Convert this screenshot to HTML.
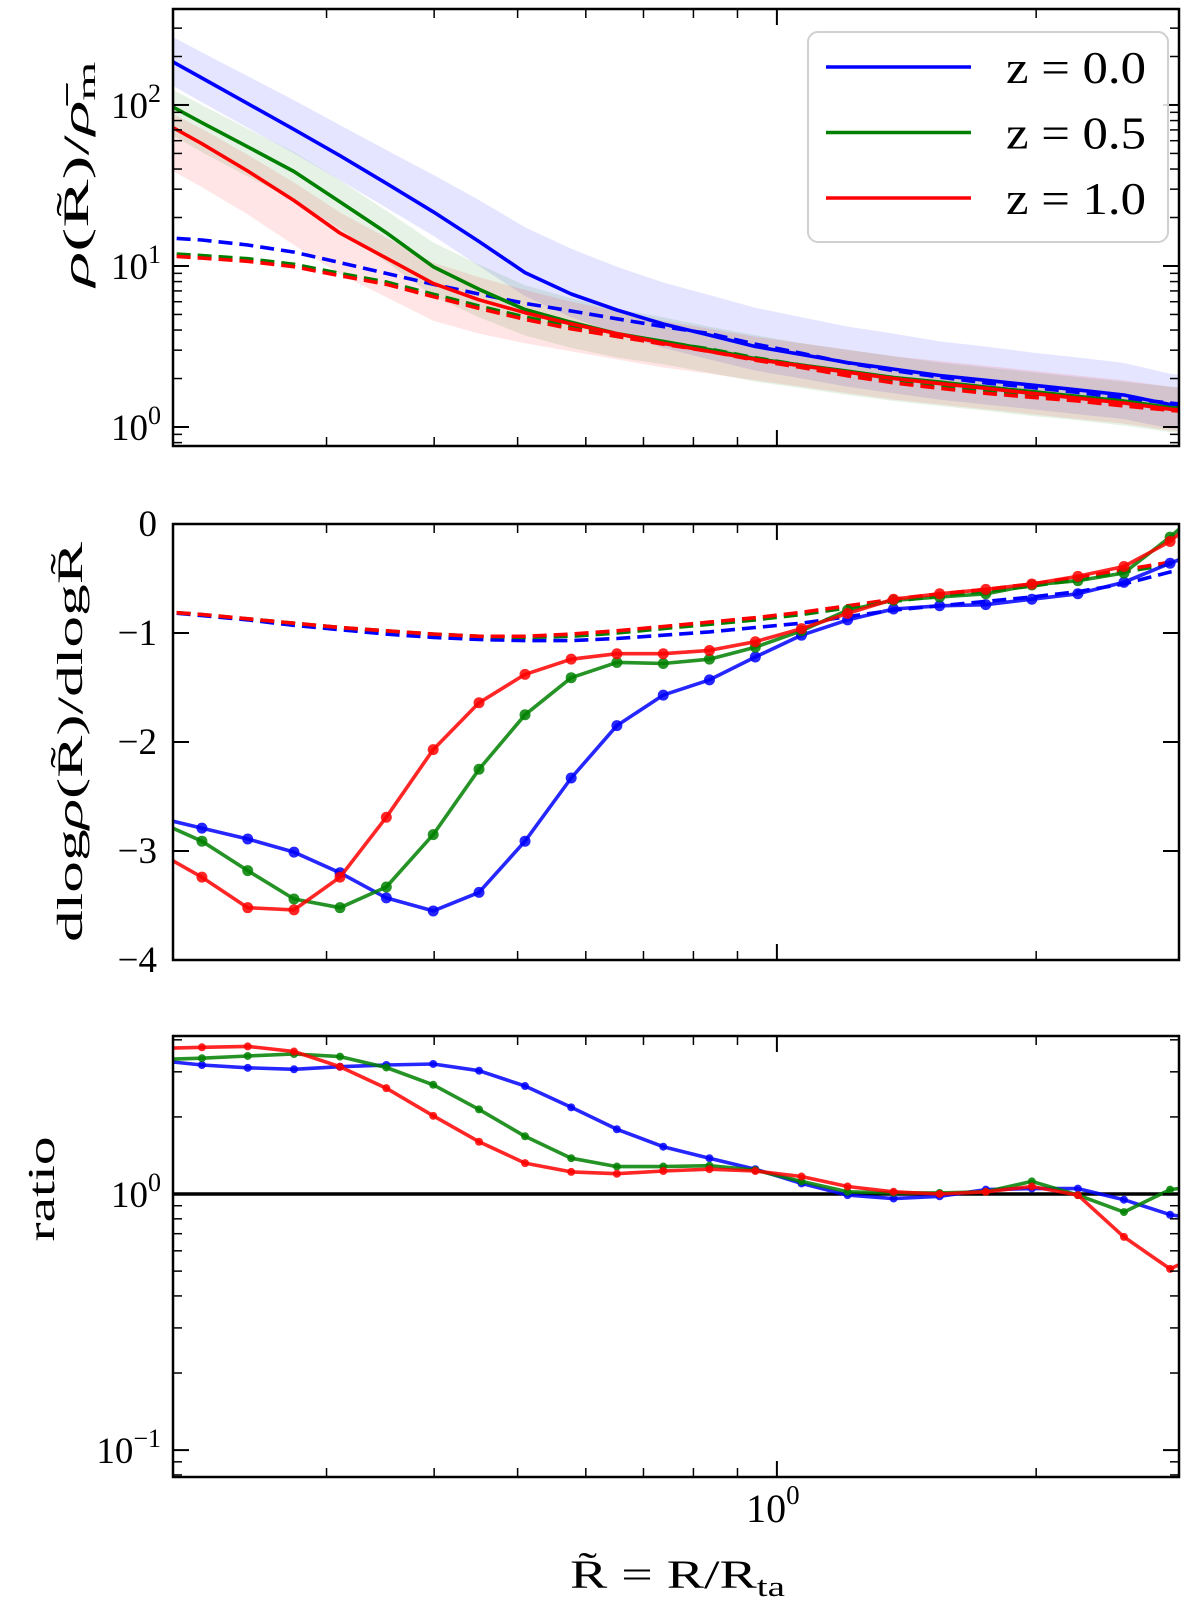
<!DOCTYPE html>
<html><head><meta charset="utf-8"><style>
html,body{margin:0;padding:0;background:#fff}
svg{display:block}
text{font-family:"Liberation Serif","DejaVu Serif",serif;fill:#000}
</style></head><body>
<svg id="fig" width="1200" height="1599" viewBox="0 0 1200 1599" xmlns="http://www.w3.org/2000/svg"></svg>
<script>
// ---- data ----
const xs = [0.190,0.215,0.243,0.275,0.311,0.352,0.399,0.451,0.510,0.577,0.652,0.738,0.835,0.944,1.068,1.208,1.366,1.545,1.748,1.977,2.236,2.529,2.861,3.236];
// panel 1 : density profiles
const rhoBlue  = [212,147,102,70.5,48.4,32.6,21.7,14.2,9.1,6.7,5.33,4.36,3.72,3.16,2.82,2.51,2.29,2.09,1.95,1.82,1.70,1.58,1.38,1.29];
const rhoGreen = [111,77.6,55,38.6,25.0,16.1,9.9,7.16,5.37,4.47,3.8,3.4,3.02,2.66,2.42,2.22,2.03,1.90,1.77,1.66,1.55,1.45,1.32,1.26];
const rhoRed   = [83,57.5,38.9,25.5,16.0,11.2,7.8,6.17,5.13,4.37,3.80,3.31,2.95,2.63,2.40,2.19,2.0,1.86,1.74,1.62,1.51,1.41,1.29,1.23];
const rhoBlueHi  = [302,212,151,107,75,52.5,36.9,25.7,17.4,12.8,9.9,7.9,6.6,5.5,4.8,4.2,3.8,3.4,3.16,2.9,2.7,2.5,2.14,2.0];
const rhoBlueLo  = [151,104,72,50,34,23,15.4,10,6.5,4.8,3.8,3.1,2.63,2.24,2.0,1.78,1.62,1.48,1.38,1.29,1.2,1.12,0.98,0.91];
const rhoGreenHi = [141,100,71,51,34,22,14,10.2,7.6,6.3,5.4,4.8,4.2,3.72,3.31,3.02,2.75,2.51,2.34,2.19,2.04,1.91,1.78,1.70];
const rhoGreenLo = [74,51,36,25.7,17,10.6,6.5,4.8,3.7,3.1,2.7,2.45,2.17,1.91,1.74,1.58,1.45,1.35,1.26,1.17,1.10,1.02,0.93,0.89];
const rhoRedHi   = [100,71,49,33,21.5,15.0,10.5,8.5,7.1,6.0,5.25,4.57,4.07,3.63,3.31,3.02,2.75,2.57,2.40,2.24,2.09,1.95,1.78,1.70];
const rhoRedLo   = [44.7,30.9,20.9,13.5,8.9,6.4,4.57,3.8,3.31,2.95,2.63,2.34,2.14,1.95,1.78,1.62,1.48,1.38,1.29,1.20,1.12,1.05,0.95,0.91];
const rhoModelBlue  = [15.1,14.5,13.5,12.2,10.5,9.0,7.7,6.7,5.86,5.25,4.7,4.2,3.80,3.27,2.87,2.50,2.24,2.04,1.88,1.76,1.64,1.51,1.41,1.32];
const rhoModelGreen = [12.1,11.6,11.1,10.25,9.0,7.95,6.68,5.64,4.82,4.21,3.78,3.38,3.05,2.69,2.42,2.15,1.95,1.80,1.68,1.58,1.50,1.40,1.31,1.24];
const rhoModelRed   = [11.7,11.2,10.7,9.9,8.7,7.7,6.45,5.45,4.66,4.07,3.65,3.27,2.95,2.60,2.34,2.08,1.88,1.74,1.62,1.53,1.45,1.35,1.27,1.20];
// panel 2 : logarithmic slope
const slopeBlue  = [-2.69,-2.79,-2.89,-3.01,-3.20,-3.43,-3.55,-3.38,-2.91,-2.33,-1.85,-1.57,-1.43,-1.22,-1.02,-0.88,-0.78,-0.75,-0.74,-0.69,-0.64,-0.535,-0.36,-0.2];
const slopeGreen = [-2.72,-2.91,-3.18,-3.44,-3.52,-3.33,-2.85,-2.25,-1.75,-1.41,-1.27,-1.28,-1.24,-1.13,-0.98,-0.79,-0.70,-0.67,-0.64,-0.56,-0.52,-0.45,-0.12,0.25];
const slopeRed   = [-3.0,-3.24,-3.52,-3.54,-3.24,-2.69,-2.07,-1.64,-1.38,-1.24,-1.19,-1.19,-1.16,-1.08,-0.96,-0.82,-0.69,-0.64,-0.60,-0.55,-0.48,-0.39,-0.16,0.2];
const slopeModelBlue  = [-0.80,-0.84,-0.88,-0.93,-0.97,-1.01,-1.04,-1.06,-1.07,-1.07,-1.05,-1.02,-0.99,-0.95,-0.91,-0.85,-0.79,-0.75,-0.71,-0.67,-0.62,-0.55,-0.44,-0.36];
const slopeModelGreen = [-0.80,-0.83,-0.87,-0.91,-0.95,-0.98,-1.01,-1.03,-1.04,-1.03,-1.00,-0.96,-0.92,-0.88,-0.83,-0.77,-0.71,-0.66,-0.62,-0.57,-0.51,-0.44,-0.37,-0.30];
const slopeModelRed   = [-0.80,-0.83,-0.87,-0.91,-0.95,-0.98,-1.01,-1.03,-1.03,-1.01,-0.98,-0.94,-0.90,-0.86,-0.81,-0.75,-0.69,-0.64,-0.60,-0.55,-0.49,-0.42,-0.35,-0.28];
// panel 3 : ratio
const ratioBlue  = [3.33,3.19,3.11,3.07,3.14,3.19,3.22,3.03,2.64,2.18,1.79,1.53,1.38,1.25,1.10,0.99,0.96,0.98,1.04,1.05,1.05,0.95,0.83,0.78];
const ratioGreen = [3.35,3.39,3.46,3.52,3.44,3.12,2.67,2.14,1.68,1.38,1.28,1.28,1.29,1.24,1.12,1.02,1.01,1.01,1.02,1.12,0.99,0.85,1.04,1.10];
const ratioRed   = [3.70,3.74,3.77,3.60,3.14,2.59,2.02,1.60,1.32,1.22,1.20,1.23,1.25,1.23,1.17,1.07,1.02,1.0,1.02,1.07,0.99,0.68,0.51,0.62];
const legendLabels = ["z = 0.0","z = 0.5","z = 1.0"];
const colors = ["#0000ff","#008000","#ff0000"];
const xMinorTicks = [0.3,0.4,0.5,0.6,0.7,0.8,0.9,2];
const slopeTicks = [0,-1,-2,-3,-4];

// ---- layout ----
const NS="http://www.w3.org/2000/svg";
const svg=document.getElementById('fig');
const X0=173,X1=1179, LX0=Math.log10(0.199), LX1=Math.log10(2.93);
const P=[{t:9,b:446,lo:-0.118,hi:2.596,log:true},{t:524,b:960,lo:-4,hi:0,log:false},{t:1036,b:1477,lo:-1.105,hi:0.617,log:true}];
function xp(v){return X0+(Math.log10(v)-LX0)/(LX1-LX0)*(X1-X0);}
function yp(p,v){const u=p.log?Math.log10(v):v;return p.b-(u-p.lo)/(p.hi-p.lo)*(p.b-p.t);}
function el(tag,attrs,parent){const e=document.createElementNS(NS,tag);for(const k in attrs)e.setAttribute(k,attrs[k]);(parent||svg).appendChild(e);return e;}
const defs=el('defs',{});
P.forEach((p,i)=>{const c=el('clipPath',{id:'clip'+i},defs);el('rect',{x:X0,y:p.t,width:X1-X0,height:p.b-p.t},c);});

function line(pi,vals,color,opts){
  const p=P[pi];
  const g=el('g',{'clip-path':'url(#clip'+pi+')'});
  
  
  const d=vals.map((v,i)=>(i?'L':'M')+xp(xs[i]).toFixed(1)+','+yp(p,v).toFixed(1)).join('');
  const path=el('path',{d:d,fill:'none',stroke:color,'stroke-width':opts.w||3.6,'stroke-dasharray':opts.dash||'none','stroke-linejoin':'round'},g);
  if(opts.op)path.setAttribute('stroke-opacity',opts.op);
  if(opts.r){vals.forEach((v,i)=>{const c=el('circle',{cx:xp(xs[i]),cy:yp(p,v),r:opts.r,fill:color,'fill-opacity':0.85},g);
    
    });}
}
function band(pi,lo,hi,color,name){
  const p=P[pi];
  const g=el('g',{'clip-path':'url(#clip'+pi+')'});
  let d=hi.map((v,i)=>(i?'L':'M')+xp(xs[i]).toFixed(1)+','+yp(p,v).toFixed(1)).join('');
  for(let i=lo.length-1;i>=0;i--)d+='L'+xp(xs[i]).toFixed(1)+','+yp(p,lo[i]).toFixed(1);
  const e=el('path',{d:d+'Z',fill:color,'fill-opacity':0.1,stroke:'none'},g);
  
  
}
function frame(pi){
  const p=P[pi];
  const r=el('rect',{x:X0,y:p.t,width:X1-X0,height:p.b-p.t,fill:'none',stroke:'#000','stroke-width':2.5});
  
  
  xMinorTicks.forEach(v=>{const x=xp(v);el('line',{x1:x,x2:x,y1:p.b,y2:p.b-9,stroke:'#000','stroke-width':1.5});el('line',{x1:x,x2:x,y1:p.t,y2:p.t+9,stroke:'#000','stroke-width':1.5});});
  const xm=xp(1);el('line',{x1:xm,x2:xm,y1:p.b,y2:p.b-16,stroke:'#000','stroke-width':2});el('line',{x1:xm,x2:xm,y1:p.t,y2:p.t+16,stroke:'#000','stroke-width':2});
  if(p.log){
    for(let e=Math.floor(p.lo);e<=Math.ceil(p.hi);e++){
      for(let m=1;m<10;m++){const v=m*Math.pow(10,e);const lv=Math.log10(v);if(lv<p.lo||lv>p.hi)continue;
        const y=yp(p,v),L=m==1?16:9,w=m==1?2:1.5;
        el('line',{x1:X0,x2:X0+L,y1:y,y2:y,stroke:'#000','stroke-width':w});el('line',{x1:X1,x2:X1-L,y1:y,y2:y,stroke:'#000','stroke-width':w});
        if(m==1){const t=el('text',{x:X0-12,y:y+13,'font-size':37,'text-anchor':'end'});
          
          
          t.appendChild(document.createTextNode('10'));
          const s=el('tspan',{dy:-16,'font-size':26},t);s.textContent=(e<0?'\u2212':'')+Math.abs(e);}
      }}
  } else {
    slopeTicks.forEach(v=>{const y=yp(p,v);
      el('line',{x1:X0,x2:X0+16,y1:y,y2:y,stroke:'#000','stroke-width':2});el('line',{x1:X1,x2:X1-16,y1:y,y2:y,stroke:'#000','stroke-width':2});
      const t=el('text',{x:X0-16,y:y+12,'font-size':37,'text-anchor':'end'});
      
      
      t.textContent=v===0?'0':'\u2212'+Math.abs(v);});
  }
}
band(0,rhoBlueLo,rhoBlueHi,colors[0],'band-z0');
band(0,rhoGreenLo,rhoGreenHi,colors[1],'band-z05');
band(0,rhoRedLo,rhoRedHi,colors[2],'band-z1');
line(0,rhoModelBlue,colors[0],{name:'model-z0',dash:'14,7'});
line(0,rhoModelGreen,colors[1],{name:'model-z05',dash:'14,7'});
line(0,rhoModelRed,colors[2],{name:'model-z1',dash:'14,7'});
line(0,rhoBlue,colors[0],{name:'density-z0'});
line(0,rhoGreen,colors[1],{name:'density-z05'});
line(0,rhoRed,colors[2],{name:'density-z1'});
frame(0);
line(1,slopeModelBlue,colors[0],{name:'slope-model-z0',dash:'14,7'});
line(1,slopeModelGreen,colors[1],{name:'slope-model-z05',dash:'14,7'});
line(1,slopeModelRed,colors[2],{name:'slope-model-z1',dash:'14,7'});
line(1,slopeBlue,colors[0],{name:'slope-z0',r:5.5,op:0.85});
line(1,slopeGreen,colors[1],{name:'slope-z05',r:5.5,op:0.85});
line(1,slopeRed,colors[2],{name:'slope-z1',r:5.5,op:0.85});
frame(1);
const ref=el('line',{x1:X0,x2:X1,y1:yp(P[2],1),y2:yp(P[2],1),stroke:'#000','stroke-width':3.5});


line(2,ratioBlue,colors[0],{name:'ratio-z0',r:4,op:0.85});
line(2,ratioGreen,colors[1],{name:'ratio-z05',r:4,op:0.85});
line(2,ratioRed,colors[2],{name:'ratio-z1',r:4,op:0.85});
frame(2);
const xl=el('text',{x:xp(1)-4,y:1522,'font-size':40,'text-anchor':'middle'});


xl.appendChild(document.createTextNode('10'));
const xs0=el('tspan',{dy:-18,'font-size':27},xl);xs0.textContent='0';
const lg=el('g',{});


el('rect',{x:808,y:32,width:360,height:210,rx:10,fill:'#fff','fill-opacity':0.85,stroke:'#d0d0d0','stroke-width':2},lg);
legendLabels.forEach((lab,i)=>{const y=67+i*65.5;
  const e=el('g',{},lg);
  
  
  el('line',{x1:826,x2:971,y1:y,y2:y,stroke:colors[i],'stroke-width':3.5},e);
  const t=el('text',{x:1006,y:y+16,'font-size':46,textLength:140,lengthAdjust:'spacingAndGlyphs'},e);t.textContent=lab;});
</script>
<div style="position:absolute;left:0;top:0;width:1200px;height:1599px;pointer-events:none">
<svg width="1200" height="1599" xmlns="http://www.w3.org/2000/svg" style="position:absolute;left:0;top:0">
<text transform="translate(88,174) rotate(-90)" font-size="36" text-anchor="middle" textLength="225" lengthAdjust="spacingAndGlyphs" font-family="Liberation Serif, serif"><tspan font-style="italic">ρ</tspan>(R&#771;)/<tspan font-style="italic">ρ&#772;</tspan><tspan font-size="25" dy="7">m</tspan></text>
<text transform="translate(82,742) rotate(-90)" font-size="36" text-anchor="middle" textLength="400" lengthAdjust="spacingAndGlyphs" font-family="Liberation Serif, serif">dlog<tspan font-style="italic">ρ</tspan>(R&#771;)/dlogR&#771;</text>
<text transform="translate(54,1189) rotate(-90)" font-size="38" text-anchor="middle" textLength="105" lengthAdjust="spacingAndGlyphs" font-family="Liberation Serif, serif">ratio</text>
<text x="570" y="1588" font-size="40" textLength="215" lengthAdjust="spacingAndGlyphs" font-family="Liberation Serif, serif">R&#771; = R/R<tspan font-size="28" dy="8">ta</tspan></text>
</svg></div>
</body></html>
